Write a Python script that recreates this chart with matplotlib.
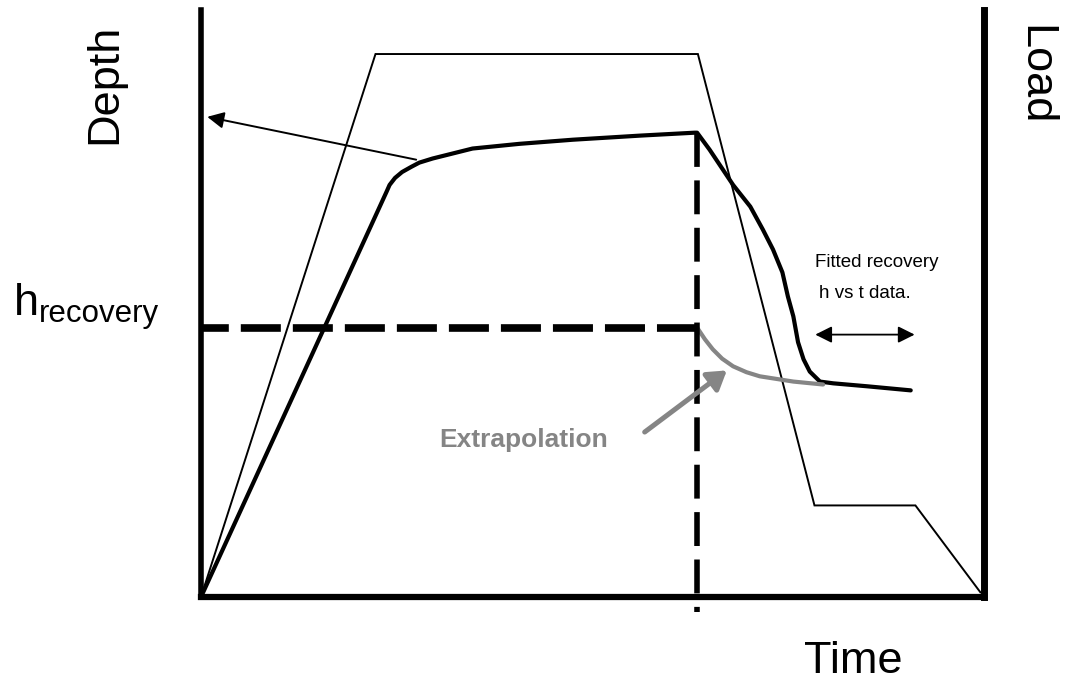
import matplotlib
matplotlib.use("Agg")
import matplotlib.pyplot as plt

plt.rcParams["font.family"] = ["Liberation Sans", "DejaVu Sans"]

W, H = 1073, 685

# applied load: ramp up, hold, unload to a small hold, then off
load_time = [0, 22.3, 63.5, 78.4, 91.3, 99.6]
load_level = [0, 92.5, 92.5, 15.6, 15.6, 0.8]

# measured depth: loading, creep at peak load, recovery after unloading
depth_time = [0, 23.7, 24.1, 24.8, 25.7, 26.9, 27.9, 29.6, 31.4, 34.7, 40.7,
              47.5, 56.1, 63.1, 63.4, 65.0, 68.0, 70.2, 71.8, 73.1, 74.3,
              75.0, 75.7, 76.3, 77.0, 77.8, 79.1, 80.8, 85.1, 90.7]
depth_value = [0, 69.0, 70.2, 71.4, 72.4, 73.3, 74.0, 74.7, 75.3, 76.4, 77.2,
               77.9, 78.6, 79.1, 79.1, 76.2, 70.2, 66.5, 62.6, 59.2, 55.3,
               51.2, 47.8, 43.4, 40.5, 38.4, 36.7, 36.4, 35.9, 35.2]

# fitted recovery extrapolated back to the unload time
extrap_time = [63.4, 64.4, 65.4, 66.6, 68.0, 69.7, 71.4, 75.7, 79.5]
extrap_value = [45.9, 43.9, 42.2, 40.6, 39.3, 38.3, 37.6, 36.7, 36.2]

unload_time = 63.4
h_recovery = 45.9
peak_depth = 79.1
fit_window = [78.5, 91.2]
fit_arrow_level = 44.7

GREY = "#858585"


def px(x, y):
    """pixel position -> figure fraction"""
    return x / W, 1 - y / H


fig = plt.figure(figsize=(W / 100, H / 100), dpi=100)
left, bottom = px(201, 597)
right, top = px(983.5, 10)
ax = fig.add_axes([left, bottom, right - left, top - bottom])
ax.set_xlim(0, 100)
ax.set_ylim(0, 100)
ax.set_xticks([])
ax.set_yticks([])
ax.spines["top"].set_visible(False)
ax.spines["left"].set_linewidth(4.0)
ax.spines["right"].set_linewidth(5.0)
ax.spines["bottom"].set_linewidth(4.5)
ax.patch.set_alpha(0)

# load history
ax.plot(load_time, load_level, color="black", lw=1.4, solid_joinstyle="miter")

# depth history
ax.plot(depth_time, depth_value, color="black", lw=3.0,
        solid_capstyle="round", solid_joinstyle="round")
ax.plot(extrap_time, extrap_value, color=GREY, lw=3.0, solid_capstyle="round")

# h_recovery level and unload time markers
ax.plot([unload_time, 0], [h_recovery, h_recovery], color="black", lw=5.5,
        dashes=(5.24, 1.57), dash_capstyle="butt")
ax.plot([unload_time, unload_time], [peak_depth, -2.5], color="black", lw=4.0,
        dashes=(6.1, 2.43), dash_capstyle="butt", clip_on=False)

# arrow pointing the depth curve to its axis
ax.annotate("", xy=(0.8, 81.8), xytext=(27.5, 74.5),
            arrowprops=dict(arrowstyle="-|>,head_length=0.5,head_width=0.25",
                            mutation_scale=20, color="black", lw=1.4,
                            shrinkA=0, shrinkB=0))

# extent of the fitted recovery data
ax.annotate("", xy=(fit_window[1], fit_arrow_level),
            xytext=(fit_window[0], fit_arrow_level),
            arrowprops=dict(arrowstyle="<|-|>,head_length=0.5,head_width=0.25",
                            mutation_scale=20, color="black", lw=1.3,
                            shrinkA=0, shrinkB=0))

# extrapolation label arrow
ax.annotate("", xy=(67.2, 38.6), xytext=(56.7, 28.1),
            arrowprops=dict(arrowstyle="-|>,head_length=0.55,head_width=0.35",
                            mutation_scale=20, color=GREY, lw=3.6,
                            shrinkA=0, shrinkB=0))

# labels
fig.text(*px(105, 84), "Depth", fontsize=32.5, rotation=90,
         ha="center", va="center")
fig.text(*px(1035, 75), "Load", fontsize=32.5, rotation=270,
         ha="center", va="center")
fig.text(*px(853, 673), "Time", fontsize=32.5, ha="center", va="baseline")
fig.text(*px(14, 315), "h", fontsize=32.5, ha="left", va="baseline")
fig.text(*px(39, 322), "recovery", fontsize=22.5, ha="left", va="baseline")
fig.text(*px(815, 267), "Fitted recovery", fontsize=13.5,
         ha="left", va="baseline")
fig.text(*px(819, 298), "h vs t data.", fontsize=13.5,
         ha="left", va="baseline")
fig.text(*px(439, 447), "Extrapolation", fontsize=19, fontweight="bold",
         color=GREY, ha="left", va="baseline")

fig.savefig("out.png", dpi=100)
